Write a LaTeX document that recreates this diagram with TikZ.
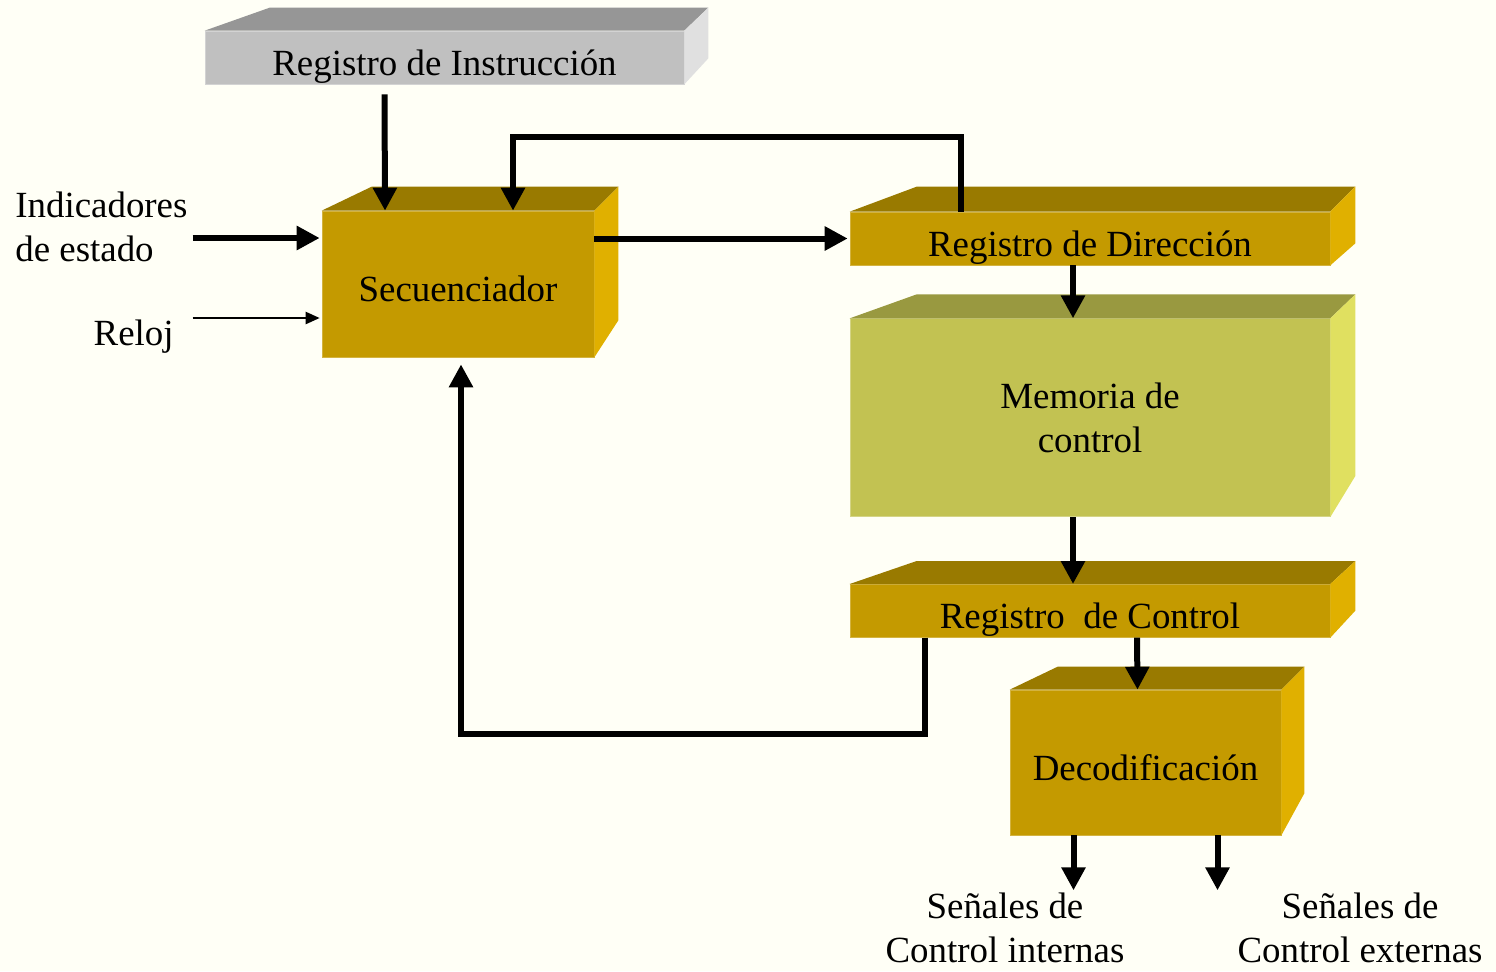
\documentclass[tikz,border=0pt]{standalone}
\usepackage{fontspec}
\setmainfont{Liberation Serif}
\usepackage{tikz}
\usetikzlibrary{positioning}
\usetikzlibrary{arrows.meta}

\definecolor{fondo}{RGB}{255,255,246}
\definecolor{oro}{RGB}{196,154,0}
\definecolor{orotapa}{RGB}{153,122,0}
\definecolor{orolado}{RGB}{224,176,0}
\definecolor{oliva}{RGB}{194,194,82}
\definecolor{olivatapa}{RGB}{153,153,64}
\definecolor{olivalado}{RGB}{224,224,96}
\definecolor{gris}{RGB}{192,192,192}
\definecolor{gristapa}{RGB}{150,150,150}
\definecolor{grislado}{RGB}{224,224,224}

% top and side face of a block: node, dx left, dx right, dy top, dy bottom, colours
\newcommand{\caras}[7]{%
  \fill[#6] (#1.north west) -- ++(#2,-#4) -- ([shift={(#3,-#4)}]#1.north east) -- (#1.north east) -- cycle;
  \fill[#7] (#1.north east) -- ++(#3,-#4) -- ([shift={(#3,-#5)}]#1.south east) -- (#1.south east) -- cycle;
}

\begin{document}
\begin{tikzpicture}[
            > = {Triangle[length=4.6mm,width=4.6mm]}, % arrow head style
            x = 0.02cm, y = -0.02cm, % pixel grid, y going down
            font = \fontsize{21}{25}\selectfont,
            node distance = 1.06cm
        ]

        \tikzstyle{caja}=[
            rectangle,
            inner sep = 0pt,
            fill = oro,
            draw = oro!75!white,
            line width = 0.4pt,
            align = center
        ]
        \tikzstyle{linea}=[text height = 20pt, text depth = 0pt]
        \tikzstyle{registro}=[caja, linea, minimum width = 9.6cm, minimum height = 1.06cm]
        \tikzstyle{flecha}=[->, line width = 1.2mm]
        \tikzstyle{fina}=[-{Triangle[length=2.8mm,width=2.4mm]}, line width = 0.45mm]
        \tikzstyle{etiqueta}=[inner sep = 0pt, align = center]

        \fill[fondo] (0,0) rectangle (1496,971);

	% blocks
        \node[registro, fill = gris, draw = gris!70!white, minimum width = 9.58cm] (RI) at (444.5,57.5) {Registro de Instrucción};
        \node[caja, linea, minimum width = 5.44cm, minimum height = 2.92cm] (S) at (458,284) {Secuenciador};
        \node[registro] (RD) at (1090,238.5) {Registro de Dirección};
        \node[caja, fill = oliva, draw = oliva!70!white, minimum width = 9.6cm, minimum height = 3.96cm] (M) [below = 1.06cm of RD] {Memoria de\\control};
        \node[registro] (RC) [below = 1.34cm of M] {Registro\ \ de Control};
        \node[caja, linea, minimum width = 5.42cm, minimum height = 2.9cm] (D) at (1145.5,762.5) {Decodificación};

        \caras{RI}{65}{24}{23}{26}{gristapa}{grislado}
        \caras{S}{50}{24}{24}{37}{orotapa}{orolado}
        \caras{RD}{67}{25}{25}{22}{orotapa}{orolado}
        \caras{M}{67}{25}{24}{41}{olivatapa}{olivalado}
        \caras{RC}{67}{25}{23}{27}{orotapa}{orolado}
        \caras{D}{48}{23}{23}{42}{orotapa}{orolado}

	% labels
        \node[etiqueta, anchor = base west, align = left] (ind) at (15,261) {Indicadores\\de estado};
        \node[etiqueta, anchor = base east] (reloj) at (174,345) {Reloj};
        \node[etiqueta, anchor = base] (sint) at (1005,962) {Señales de\\Control internas};
        \node[etiqueta, anchor = base] (sext) at (1360,962) {Señales de\\Control externas};

	% connections
        \draw[flecha] ([shift={(-60,10)}]RI.south) -- ([shift={(-73,0)}]S.north);
        \draw[flecha] ([shift={(-129,0)}]RD.north) -- ++(0,-75) -| ([shift={(55,0)}]S.north);
        \draw[flecha] ([shift={(-129,-46)}]S.west) -- ([shift={(-2,-46)}]S.west);
        \draw[fina] ([shift={(-129,34)}]S.west) -- ([shift={(-2,34)}]S.west);
        \draw[flecha] (RD.west -| S.east) -- ([shift={(-2,0)}]RD.west);
        \draw[flecha] ([shift={(-17,0)}]RD.south) -- ([shift={(-17,0)}]M.north);
        \draw[flecha] ([shift={(-17,0)}]M.south) -- ([shift={(-17,0)}]RC.north);
        \draw[flecha] ([shift={(47,0)}]RC.south) -- ([shift={(-8,0)}]D.north);
        \draw[flecha] ([shift={(-165,0)}]RC.south) -- ++(0,96) -| ([shift={(3,7)}]S.south);
        \draw[flecha] ([shift={(-72,0)}]D.south) -- ++(0,55);
        \draw[flecha] ([shift={(72,0)}]D.south) -- ++(0,55);

\end{tikzpicture}
\end{document}
